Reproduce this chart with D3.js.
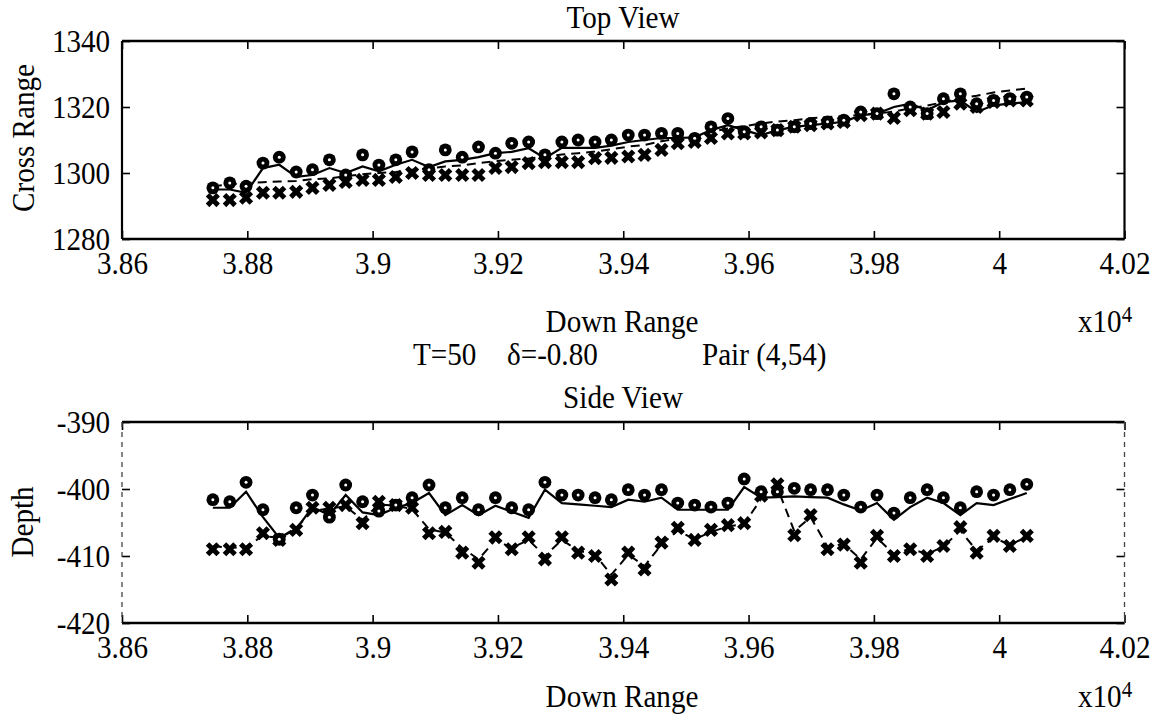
<!DOCTYPE html>
<html><head><meta charset="utf-8">
<script src="https://cdn.jsdelivr.net/npm/d3@7"></script>
<style>body{margin:0;background:#fff} svg{display:block}</style>
</head><body><svg id="c" width="1163" height="716"></svg>
<script>
// Down range sample positions (x 10^4)
const downRange = [3.8745,3.8772,3.8798,3.8825,3.8851,3.8878,3.8904,3.8931,3.8957,3.8984,
  3.9010,3.9037,3.9063,3.9090,3.9116,3.9143,3.9169,3.9196,3.9222,3.9249,
  3.9275,3.9302,3.9328,3.9355,3.9381,3.9408,3.9434,3.9461,3.9487,3.9514,
  3.9540,3.9567,3.9593,3.9620,3.9646,3.9673,3.9699,3.9726,3.9752,3.9779,
  3.9805,3.9832,3.9858,3.9885,3.9911,3.9938,3.9964,3.9991,4.0017,4.0044];

// Top view (cross range)
const topObsCircle = [1295.5,1297,1296,1303,1304.8,1300.3,1301,1304,1299.4,1305.5,
  1302.4,1304,1306.4,1301,1307,1304.8,1307.9,1306,1309,1309.4,
  1305.5,1309.4,1310,1309.4,1310,1311.5,1311.5,1312,1312,1310.5,
  1314,1316.5,1312.5,1314,1313,1314,1315,1315.5,1316,1318.5,
  1318,1324,1320,1318,1322.5,1324,1321,1322,1322.5,1323];
const topObsCross = [1291.8,1291.8,1292.5,1294,1294,1294.3,1295.5,1296.4,1297.3,1297.9,
  1297.9,1298.8,1300,1299.4,1299.4,1299.4,1299.4,1301.5,1301.8,1303,
  1303.3,1303.3,1303.3,1304.5,1304.6,1305,1305.5,1307,1309,1309.4,
  1310.6,1312,1312,1312.3,1313,1314,1314.5,1315,1315.5,1317.5,
  1318,1316.7,1319,1318,1318.5,1321,1320,1321.5,1322,1322];
const topEstSolid = [1295,1295,1294,1301.5,1302.5,1298.8,1299.4,1301.5,1300,1302,
  1300.5,1302.5,1304,1301.8,1303.5,1304,1304.8,1306,1306.4,1307.5,
  1304.5,1307.6,1307.6,1307.6,1308.3,1309.4,1310,1310.6,1310.6,1310.8,
  1313,1314.5,1313,1311.5,1313,1314,1314.5,1315,1315.5,1317.5,
  1318,1320,1321,1319,1321.5,1322,1318.5,1320.5,1321,1321.5];
const topEstDashed = [1296,1296.5,1297,1297.2,1297.4,1297.6,1298.1,1298.4,1299,1299.6,
  1300,1300.3,1301,1301.4,1302,1302.3,1303,1303.6,1304,1304.4,
  1305,1305.6,1306,1306.5,1307.2,1308,1308.5,1309.6,1310.4,1311.5,
  1312.4,1313.5,1314.2,1315,1315.6,1316,1316.6,1317,1317.2,1317.6,
  1318,1318.6,1319.6,1320.4,1321.5,1322.6,1323.4,1324.4,1325,1325.6];

// Side view (depth)
const sideObsCircle = [-401.6,-401.9,-399,-403.1,-407.5,-402.8,-400.9,-404.2,-399.4,-401.9,
  -403.3,-402.4,-401.3,-399.4,-402.8,-401.3,-403.1,-401.3,-402.8,-403.1,
  -399,-400.9,-400.9,-401.3,-401.6,-400.1,-400.9,-400.1,-402.1,-402.4,
  -402.7,-402.1,-398.5,-400.4,-400.4,-399.9,-400.1,-400.1,-400.9,-402.7,
  -400.9,-403.6,-401.3,-400.1,-401.3,-402.8,-400.4,-400.9,-400.1,-399.3];
const sideObsCross = [-409,-409,-409,-406.6,-407.6,-406.1,-402.8,-402.8,-402.4,-405.1,
  -401.9,-402.4,-402.8,-406.6,-406.4,-409.5,-411,-407.2,-409,-407.2,
  -410.5,-407.2,-409.5,-410,-413.5,-409.5,-412,-408,-405.8,-407.6,
  -406.1,-405.4,-405.1,-401,-399.3,-406.9,-403.9,-409,-408.3,-411,
  -407,-410,-409,-410,-408.5,-405.7,-409.5,-407,-408.5,-407];
const sideEstSolid = [-402.8,-402.8,-400.4,-404.2,-407.3,-406,-402.7,-403.9,-400.9,-403.5,
  -403.9,-402.8,-402.1,-400.6,-403.9,-402.4,-403.9,-402.5,-403.4,-404.3,
  -400.1,-402.1,-402.3,-402.5,-402.7,-401.6,-401.9,-401.3,-403.1,-403.1,
  -403.1,-403.1,-399.7,-401.3,-401.2,-401.1,-401.2,-401.3,-402.3,-403.2,
  -402.1,-404.6,-402.7,-401.3,-402.1,-403.9,-402.1,-402.4,-401.5,-400.6];
const sideEstDashed = [-408.5,-408.8,-408.6,-407,-407.3,-405.8,-403.3,-402.9,-402.6,-404.6,
  -402.3,-402.5,-403,-406,-406.5,-408.8,-410.5,-407.6,-408.8,-407.6,
  -410,-407.6,-409.2,-409.8,-412.8,-409.8,-411.5,-408.3,-406.2,-407.5,
  -406.4,-405.6,-405.2,-401.5,-399.8,-406.3,-404.2,-408.6,-408.2,-410.5,
  -407.3,-409.7,-408.9,-409.7,-408.6,-406.2,-409.2,-407.3,-408.3,-407.2];

const xTicks = [3.86,3.88,3.90,3.92,3.94,3.96,3.98,4.00,4.02];
const topYTicks = [1280,1300,1320,1340];
const sideYTicks = [-420,-410,-400,-390];

const svg = d3.select("#c");
const FONT = "'Liberation Serif','Times New Roman',serif";
const FS = 32, SX = 0.91;

function label(x, y, s, anchor, rot, size) {
  const g = svg.append("g").attr("transform", `translate(${x},${y}) rotate(${rot||0})`);
  return g.append("text").attr("transform", `scale(${SX},1)`)
    .attr("text-anchor", anchor).attr("font-family", FONT)
    .attr("font-size", size || FS).attr("fill", "#000").text(s);
}

function styleAxisText(sel) {
  sel.attr("font-family", FONT).attr("font-size", FS);
  sel.selectAll("text").attr("transform", `scale(${SX},1)`).attr("fill", "#000");
  sel.selectAll("line").attr("stroke", "#000").attr("stroke-width", 1.6);
  sel.select(".domain").remove();
}

function panel(c) {
  const x = d3.scaleLinear().domain([3.86, 4.02]).range([c.left, c.right]);
  const y = d3.scaleLinear().domain(c.yDomain).range([c.bottom, c.top]);
  const g = svg.append("g");
  const line = d3.line().x((d, i) => x(downRange[i])).y(d => y(d));

  g.append("path").attr("d", line(c.estDashed)).attr("fill", "none")
    .attr("stroke", "#000").attr("stroke-width", 2).attr("stroke-dasharray", "9,6");
  g.append("path").attr("d", line(c.estSolid)).attr("fill", "none")
    .attr("stroke", "#000").attr("stroke-width", 2.2);

  const cross = d3.symbol().type(d3.symbolCross).size(125);
  g.selectAll(".xm").data(c.obsCross).join("path")
    .attr("d", cross)
    .attr("transform", (d, i) => `translate(${x(downRange[i])},${y(d)}) rotate(45)`)
    .attr("fill", "#000");
  g.selectAll(".om").data(c.obsCircle).join("circle")
    .attr("cx", (d, i) => x(downRange[i])).attr("cy", d => y(d))
    .attr("r", 6.4).attr("fill", "#000");
  g.selectAll(".od").data(c.obsCircle).join("circle")
    .attr("cx", (d, i) => x(downRange[i])).attr("cy", d => y(d))
    .attr("r", 1.5).attr("fill", "#fff");

  // axes
  const fmt = d => String(+d.toFixed(2));
  const gb = svg.append("g").attr("transform", `translate(0,${c.bottom})`)
    .call(d3.axisBottom(x).tickValues(xTicks).tickFormat(fmt).tickSize(-8).tickPadding(12));
  styleAxisText(gb);
  const gt = svg.append("g").attr("transform", `translate(0,${c.top})`)
    .call(d3.axisTop(x).tickValues(xTicks).tickFormat("").tickSize(-8));
  styleAxisText(gt);
  const gl = svg.append("g").attr("transform", `translate(${c.left},0)`)
    .call(d3.axisLeft(y).tickValues(c.yTicks).tickFormat(d => String(d)).tickSize(-8).tickPadding(13));
  styleAxisText(gl);
  const gr = svg.append("g").attr("transform", `translate(${c.right},0)`)
    .call(d3.axisRight(y).tickValues(c.yTicks).tickFormat("").tickSize(-8));
  styleAxisText(gr);

  // frame
  const f = svg.append("g").attr("stroke", "#000").attr("fill", "none");
  f.append("line").attr("x1", c.left).attr("x2", c.right).attr("y1", c.top).attr("y2", c.top).attr("stroke-width", 2.4);
  f.append("line").attr("x1", c.left).attr("x2", c.right).attr("y1", c.bottom).attr("y2", c.bottom).attr("stroke-width", 2.4);
  [c.left, c.right].forEach(xx => {
    const l = f.append("line").attr("x1", xx).attr("x2", xx).attr("y1", c.top).attr("y2", c.bottom);
    if (c.dashedSides) l.attr("stroke-width", 1.3).attr("stroke", "#444").attr("stroke-dasharray", "5,5");
    else l.attr("stroke-width", 2.2);
  });
}

panel({top: 41, bottom: 239, left: 122, right: 1124.5, yDomain: [1280, 1340], yTicks: topYTicks,
  obsCircle: topObsCircle, obsCross: topObsCross, estSolid: topEstSolid, estDashed: topEstDashed, dashedSides: false});
panel({top: 422, bottom: 623, left: 122, right: 1124.5, yDomain: [-420, -390], yTicks: sideYTicks,
  obsCircle: sideObsCircle, obsCross: sideObsCross, estSolid: sideEstSolid, estDashed: sideEstDashed, dashedSides: true});

label(623, 28, "Top View", "middle");
label(622, 332, "Down Range", "middle");
const e1 = label(1078, 332, "x10", "start");
e1.append("tspan").attr("dy", -10).attr("font-size", 23).text("4");
label(34, 138, "Cross Range", "middle", -90);
label(413, 365, "T=50", "start");
label(507, 365, "δ=-0.80", "start");
label(702, 365, "Pair (4,54)", "start");
label(623, 408, "Side View", "middle");
label(622, 707, "Down Range", "middle");
const e2 = label(1078, 707, "x10", "start");
e2.append("tspan").attr("dy", -10).attr("font-size", 23).text("4");
label(33, 522, "Depth", "middle", -90);
</script></body></html>
